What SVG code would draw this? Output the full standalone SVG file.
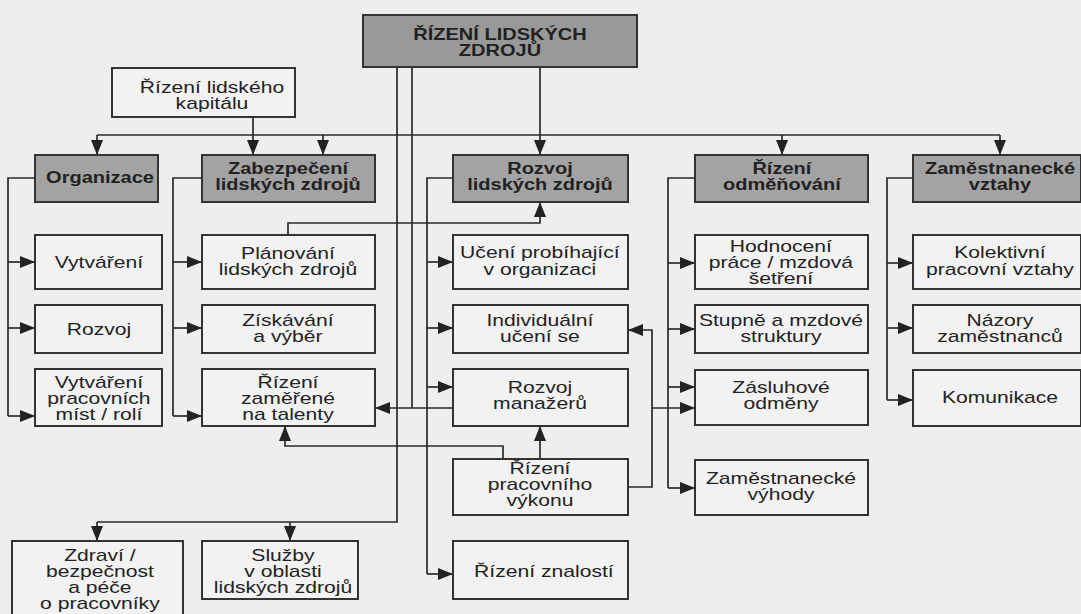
<svg xmlns="http://www.w3.org/2000/svg" width="1081" height="614" viewBox="0 0 1081 614">
<defs>
<style>
.bg{fill:#eeeeee}
.w{fill:#f2f2f2;stroke:#333;stroke-width:2}
.g{fill:#a3a3a3;stroke:#333;stroke-width:2}
.gd{fill:#999999;stroke:#333;stroke-width:2}
.t{font-family:"Liberation Sans",Arial,sans-serif;font-size:16px;text-anchor:middle;fill:#222;transform-box:fill-box;transform-origin:center;transform:scaleX(1.32)}
.b{font-weight:bold;transform:scaleX(1.25)}
.c path{fill:none;stroke:#2a2a2a;stroke-width:1.7}
.c .a{marker-end:url(#ah)}
</style>
<marker id="ah" markerUnits="userSpaceOnUse" markerWidth="15" markerHeight="12" refX="15" refY="6" orient="auto">
<path d="M0,0 L15,6 L0,12 z" fill="#222"/>
</marker>
</defs>
<rect class="bg" x="0" y="0" width="1081" height="614"/>

<g class="c" id="connectors">
<path class="a" d="M253,117 V155"/>
<path d="M97,135 H1000"/>
<path class="a" d="M97,135 V155"/>
<path class="a" d="M323,135 V155"/>
<path class="a" d="M782,135 V155"/>
<path class="a" d="M1000,135 V155"/>
<path class="a" d="M540,67 V155"/>
<path d="M397,67 V522 H97"/>
<path class="a" d="M97,522 V541"/>
<path class="a" d="M290,522 V541"/>
<path d="M412,67 V408"/>
<path class="a" d="M453,408 H375"/>
<path d="M35,178 H8 V416"/>
<path class="a" d="M8,262 H35"/>
<path class="a" d="M8,328 H35"/>
<path class="a" d="M8,416 H35"/>
<path d="M202,178 H173 V416"/>
<path class="a" d="M173,262 H202"/>
<path class="a" d="M173,328 H202"/>
<path class="a" d="M173,416 H202"/>
<path class="a" d="M288,235 V223 H540 V202"/>
<path d="M453,178 H427 V574"/>
<path class="a" d="M427,262 H453"/>
<path class="a" d="M427,328 H453"/>
<path class="a" d="M427,387 H453"/>
<path class="a" d="M427,574 H453"/>
<path class="a" d="M540,459 V426"/>
<path class="a" d="M503,459 V446 H285 V426"/>
<path class="a" d="M628,487 H652 V330 H628"/>
<path class="a" d="M652,408 H695"/>
<path d="M695,178 H668 V488"/>
<path class="a" d="M668,263 H695"/>
<path class="a" d="M668,329 H695"/>
<path class="a" d="M668,387 H695"/>
<path class="a" d="M668,488 H695"/>
<path d="M913,178 H887 V400"/>
<path class="a" d="M887,263 H913"/>
<path class="a" d="M887,328 H913"/>
<path class="a" d="M887,400 H913"/>
</g>

<g id="n-rlz"><rect class="gd" x="363" y="15" width="274" height="52"/>
<text class="t b"><tspan x="500" y="40">ŘÍZENÍ LIDSKÝCH</tspan><tspan x="500" y="56">ZDROJŮ</tspan></text></g>

<g id="n-kapital"><rect class="w" x="112" y="68" width="183" height="49"/>
<text class="t"><tspan x="212" y="93">Řízení lidského</tspan><tspan x="212" y="109">kapitálu</tspan></text></g>

<g id="n-organizace"><rect class="g" x="35" y="155" width="123" height="47"/>
<text class="t b" x="100" y="183">Organizace</text></g>

<g id="n-zabezpeceni"><rect class="g" x="202" y="155" width="173" height="47"/>
<text class="t b"><tspan x="288" y="174">Zabezpečení</tspan><tspan x="288" y="190">lidských zdrojů</tspan></text></g>

<g id="n-rozvoj-lz"><rect class="g" x="453" y="155" width="175" height="47"/>
<text class="t b"><tspan x="540" y="174">Rozvoj</tspan><tspan x="540" y="190">lidských zdrojů</tspan></text></g>

<g id="n-odmenovani"><rect class="g" x="695" y="155" width="173" height="47"/>
<text class="t b"><tspan x="782" y="174">Řízení</tspan><tspan x="782" y="190">odměňování</tspan></text></g>

<g id="n-zam-vztahy"><rect class="g" x="913" y="155" width="168" height="47"/>
<text class="t b"><tspan x="1000" y="174">Zaměstnanecké</tspan><tspan x="1000" y="190">vztahy</tspan></text></g>

<g id="n-vytvareni"><rect class="w" x="35" y="235" width="127" height="54"/>
<text class="t" x="99" y="268">Vytváření</text></g>

<g id="n-rozvoj"><rect class="w" x="35" y="305" width="127" height="48"/>
<text class="t" x="99" y="335">Rozvoj</text></g>

<g id="n-vytvareni-mist"><rect class="w" x="35" y="369" width="127" height="57"/>
<text class="t"><tspan x="99" y="388">Vytváření</tspan><tspan x="99" y="404">pracovních</tspan><tspan x="99" y="420">míst / rolí</tspan></text></g>

<g id="n-planovani"><rect class="w" x="202" y="235" width="173" height="54"/>
<text class="t"><tspan x="288" y="259">Plánování</tspan><tspan x="288" y="275">lidských zdrojů</tspan></text></g>

<g id="n-ziskavani"><rect class="w" x="202" y="305" width="173" height="48"/>
<text class="t"><tspan x="288" y="326">Získávání</tspan><tspan x="288" y="342">a výběr</tspan></text></g>

<g id="n-talenty"><rect class="w" x="202" y="369" width="173" height="57"/>
<text class="t"><tspan x="288" y="388">Řízení</tspan><tspan x="288" y="404">zaměřené</tspan><tspan x="288" y="420">na talenty</tspan></text></g>

<g id="n-uceni-org"><rect class="w" x="453" y="235" width="175" height="54"/>
<text class="t"><tspan x="540" y="258">Učení probíhající</tspan><tspan x="540" y="275">v organizaci</tspan></text></g>

<g id="n-individualni"><rect class="w" x="453" y="305" width="175" height="48"/>
<text class="t"><tspan x="540" y="326">Individuální</tspan><tspan x="540" y="342">učení se</tspan></text></g>

<g id="n-manazeru"><rect class="w" x="453" y="369" width="175" height="57"/>
<text class="t"><tspan x="540" y="393">Rozvoj</tspan><tspan x="540" y="409">manažerů</tspan></text></g>

<g id="n-vykon"><rect class="w" x="453" y="459" width="175" height="56"/>
<text class="t"><tspan x="540" y="474">Řízení</tspan><tspan x="540" y="490">pracovního</tspan><tspan x="540" y="506">výkonu</tspan></text></g>

<g id="n-znalosti"><rect class="w" x="453" y="541" width="175" height="58"/>
<text class="t" x="544" y="577">Řízení znalostí</text></g>

<g id="n-hodnoceni"><rect class="w" x="695" y="235" width="173" height="54"/>
<text class="t"><tspan x="781" y="252">Hodnocení</tspan><tspan x="781" y="268">práce / mzdová</tspan><tspan x="781" y="284">šetření</tspan></text></g>

<g id="n-stupne"><rect class="w" x="695" y="305" width="173" height="48"/>
<text class="t"><tspan x="781" y="326">Stupně a mzdové</tspan><tspan x="781" y="342">struktury</tspan></text></g>

<g id="n-zasluhove"><rect class="w" x="695" y="370" width="173" height="55"/>
<text class="t"><tspan x="781" y="393">Zásluhové</tspan><tspan x="781" y="409">odměny</tspan></text></g>

<g id="n-vyhody"><rect class="w" x="695" y="460" width="173" height="55"/>
<text class="t"><tspan x="781" y="484">Zaměstnanecké</tspan><tspan x="781" y="500">výhody</tspan></text></g>

<g id="n-kolektivni"><rect class="w" x="913" y="235" width="168" height="54"/>
<text class="t"><tspan x="1000" y="258">Kolektivní</tspan><tspan x="1000" y="275">pracovní vztahy</tspan></text></g>

<g id="n-nazory"><rect class="w" x="913" y="305" width="168" height="48"/>
<text class="t"><tspan x="1000" y="326">Názory</tspan><tspan x="1000" y="342">zaměstnanců</tspan></text></g>

<g id="n-komunikace"><rect class="w" x="913" y="370" width="168" height="56"/>
<text class="t" x="1000" y="403">Komunikace</text></g>

<g id="n-zdravi"><rect class="w" x="12" y="541" width="171" height="78"/>
<text class="t"><tspan x="100" y="561">Zdraví /</tspan><tspan x="100" y="577">bezpečnost</tspan><tspan x="100" y="593">a péče</tspan><tspan x="100" y="609">o pracovníky</tspan></text></g>

<g id="n-sluzby"><rect class="w" x="202" y="541" width="156" height="58"/>
<text class="t"><tspan x="283" y="561">Služby</tspan><tspan x="283" y="577">v oblasti</tspan><tspan x="283" y="593">lidských zdrojů</tspan></text></g>
</svg>
